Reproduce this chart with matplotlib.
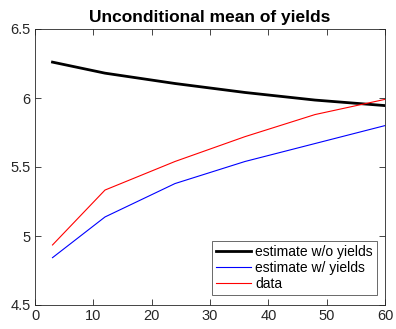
import matplotlib
matplotlib.use("Agg")
import matplotlib.pyplot as plt

maturities = [3, 12, 24, 36, 48, 60]
est_wo_yields = [6.26, 6.18, 6.105, 6.04, 5.985, 5.945]
est_w_yields = [4.843, 5.138, 5.38, 5.54, 5.67, 5.80]
data_vals = [4.935, 5.333, 5.54, 5.72, 5.88, 5.99]

plt.rcParams['font.family'] = ['Liberation Sans', 'DejaVu Sans']
fig = plt.figure(figsize=(3.96, 3.29), dpi=100)
ax = fig.add_axes([35/396, 1-305/329, 350/396, 276/329])
ax.plot(maturities, est_wo_yields, color='black', lw=2.0, label='estimate w/o yields')
ax.plot(maturities, est_w_yields, color='blue', lw=0.8, label='estimate w/ yields')
ax.plot(maturities, data_vals, color='red', lw=0.8, label='data')
ax.set_xlim(0, 60)
ax.set_ylim(4.5, 6.5)
ax.set_xticks([0, 10, 20, 30, 40, 50, 60])
ax.set_yticks([4.5, 5, 5.5, 6, 6.5])
ax.set_yticklabels(['4.5', '5', '5.5', '6', '6.5'])
gray = '#262626'
for s in ax.spines.values():
    s.set_color(gray)
    s.set_linewidth(0.6)
ax.tick_params(direction='in', top=True, right=True, length=4, width=0.6,
               colors=gray, labelsize=10.5, pad=3)
ax.set_title('Unconditional mean of yields', fontsize=12.5, fontweight='bold', pad=5)
leg = ax.legend(loc='lower right', bbox_to_anchor=((377-35)/350, 9.7/276), fontsize=10,
                frameon=True, fancybox=False,
                edgecolor=gray, borderpad=0.3, labelspacing=0.15,
                handlelength=2.5, handletextpad=0.3, borderaxespad=0.0)
leg.get_frame().set_linewidth(0.6)
fig.savefig('out.png', dpi=100)
